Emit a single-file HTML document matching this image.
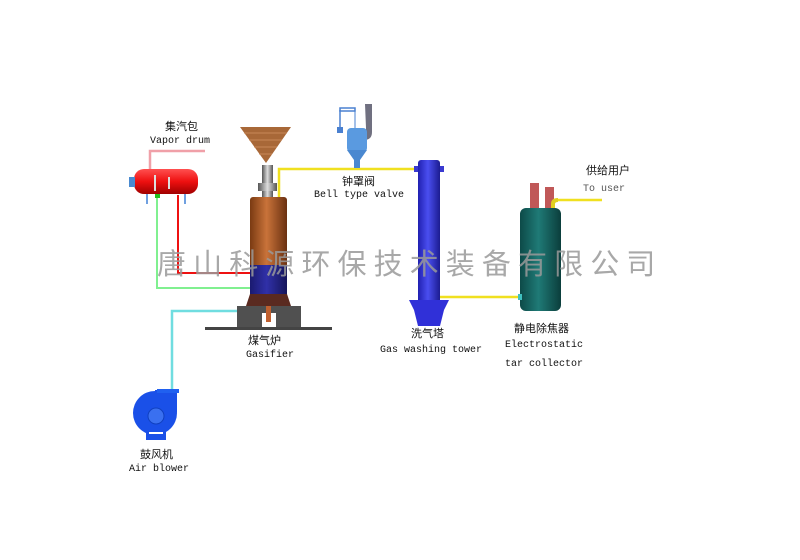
<!DOCTYPE html>
<html><head><meta charset="utf-8"><style>
html,body{margin:0;padding:0;background:#fff;}
svg{display:block;}
text{font-family:"Liberation Mono","Noto Sans CJK SC",monospace;font-size:10px;fill:#111;}
.cn{font-family:"Liberation Sans","Noto Sans CJK SC",sans-serif;font-size:11px;}
</style></head><body>
<svg width="800" height="560" viewBox="0 0 800 560" xmlns="http://www.w3.org/2000/svg">
<defs>
<linearGradient id="cu" x1="0" x2="1"><stop offset="0" stop-color="#7a3a12"/><stop offset="0.45" stop-color="#c9733a"/><stop offset="1" stop-color="#6a3010"/></linearGradient>
<linearGradient id="bl" x1="0" x2="1"><stop offset="0" stop-color="#1a1a70"/><stop offset="0.45" stop-color="#3030a8"/><stop offset="1" stop-color="#15155a"/></linearGradient>
<linearGradient id="wt" x1="0" x2="1"><stop offset="0" stop-color="#2020b0"/><stop offset="0.45" stop-color="#4a4ef0"/><stop offset="1" stop-color="#1c1c90"/></linearGradient>
<linearGradient id="tl" x1="0" x2="1"><stop offset="0" stop-color="#0d4a48"/><stop offset="0.45" stop-color="#1f7a76"/><stop offset="1" stop-color="#0b3e3c"/></linearGradient>
<linearGradient id="rd" x1="0" x2="0" y1="0" y2="1"><stop offset="0" stop-color="#ff5050"/><stop offset="0.5" stop-color="#ee1010"/><stop offset="1" stop-color="#a00000"/></linearGradient>
<linearGradient id="gr" x1="0" x2="1"><stop offset="0" stop-color="#555"/><stop offset="0.5" stop-color="#ddd"/><stop offset="1" stop-color="#555"/></linearGradient>
</defs>
<polyline points="150,170 150,151 205,151" fill="none" stroke="#f0a0a8" stroke-width="2.5"/>
<polyline points="178,195 178,273 250,273" fill="none" stroke="#ee1111" stroke-width="2"/>
<polyline points="157,196 157,288 250,288" fill="none" stroke="#80f090" stroke-width="2"/>
<polyline points="172,392 172,311 266,311" fill="none" stroke="#70dde0" stroke-width="2.5"/>
<polyline points="279,198 279,169 416,169" fill="none" stroke="#f0e020" stroke-width="2.5"/>
<polyline points="440,297 522,297" fill="none" stroke="#f0e020" stroke-width="2.5"/>
<polyline points="557,200 602,200" fill="none" stroke="#f0e020" stroke-width="2.5"/>
<rect x="134" y="169" width="64" height="25" rx="10" fill="url(#rd)"/>
<rect x="129" y="177" width="6" height="10" fill="#4a8ad0"/>
<rect x="154" y="175" width="2" height="16" fill="#ddd"/><rect x="168" y="177" width="2" height="12" fill="#ddd"/>
<rect x="146" y="194" width="2" height="10" fill="#70a0e0"/><rect x="184" y="194" width="2" height="10" fill="#70a0e0"/>
<rect x="155" y="194" width="5" height="4" fill="#20c020"/>
<polygon points="240,127 291,127 266,163" fill="#a86838"/>
<g stroke="#c88858" stroke-width="1"><line x1="244" y1="133" x2="287" y2="133"/><line x1="249" y1="140" x2="282" y2="140"/><line x1="254" y1="147" x2="277" y2="147"/><line x1="259" y1="154" x2="272" y2="154"/></g>
<rect x="262" y="165" width="11" height="32" fill="url(#gr)"/>
<rect x="258" y="183" width="19" height="8" fill="url(#gr)"/>
<rect x="250" y="197" width="37" height="72" rx="3" fill="url(#cu)"/>
<rect x="250" y="265" width="37" height="30" fill="url(#bl)"/>
<polygon points="250,294 287,294 291,306 246,306" fill="#5a2a20"/>
<path d="M237,306 H301 V328 H276 V313 H262 V328 H237 Z" fill="#505050"/>
<rect x="205" y="327" width="127" height="3" fill="#444"/>
<rect x="266" y="306" width="5" height="16" fill="#c06030"/>
<rect x="340" y="108" width="15" height="3" fill="none" stroke="#4a80d0" stroke-width="1.5"/>
<line x1="340" y1="110" x2="340" y2="128" stroke="#4a80d0" stroke-width="1.5"/><line x1="355" y1="110" x2="355" y2="135" stroke="#4a80d0"/>
<rect x="337" y="127" width="6" height="6" fill="#4a80d0"/>
<path d="M365,104 H372 V132 Q372,140 364,140 V134 Q366,134 366,128 Z" fill="#707080"/>
<rect x="347" y="128" width="20" height="24" rx="4" fill="#5a9ae0"/>
<polygon points="347,150 367,150 360,160 354,160" fill="#4a88d0"/>
<rect x="354" y="158" width="6" height="10" fill="#4a88d0"/>
<rect x="418" y="160" width="22" height="166" rx="3" fill="url(#wt)"/>
<rect x="414" y="166" width="4" height="6" fill="#3a3ad0"/><rect x="440" y="166" width="4" height="6" fill="#3a3ad0"/>
<polygon points="409,300 449,300 444,310 440,326 418,326 414,310" fill="#3030d8"/>
<rect x="530" y="183" width="9" height="32" fill="#c05858"/>
<rect x="545" y="187" width="9" height="28" fill="#c05858"/>
<path d="M553,214 V204 Q553,200 558,200" fill="none" stroke="#e0d020" stroke-width="4"/>
<rect x="520" y="208" width="41" height="103" rx="6" fill="url(#tl)"/>
<rect x="518" y="294" width="4" height="6" fill="#40c0c0"/>
<circle cx="155" cy="413" r="22" fill="#1a50e8"/>
<rect x="155" y="390" width="22" height="22" fill="#1a50e8"/>
<rect x="157" y="389" width="22" height="4" fill="#2060f0"/>
<circle cx="156" cy="416" r="8" fill="#3a70f0" stroke="#1040c0"/>
<rect x="146" y="426" width="20" height="14" fill="#1a50e8"/><rect x="149" y="432" width="14" height="2" fill="#fff"/>
<text x="157" y="274" style="font-family:'Liberation Sans','Noto Sans CJK SC',sans-serif;font-size:29px;fill:#9a9a9a;letter-spacing:7.1px;opacity:0.85">唐山科源环保技术装备有限公司</text>
<text class="cn" x="165" y="130">集汽包</text>
<text x="150" y="143">Vapor drum</text>
<text class="cn" x="342" y="185">钟罩阀</text>
<text x="314" y="197">Bell type valve</text>
<text class="cn" x="586" y="174">供给用户</text>
<text x="583" y="191" style="fill:#555">To user</text>
<text class="cn" x="248" y="344">煤气炉</text>
<text x="246" y="357">Gasifier</text>
<text class="cn" x="411" y="337">洗气塔</text>
<text x="380" y="352">Gas washing tower</text>
<text class="cn" x="514" y="332">静电除焦器</text>
<text x="505" y="347">Electrostatic</text>
<text x="505" y="366">tar collector</text>
<text class="cn" x="140" y="458">鼓风机</text>
<text x="129" y="471">Air blower</text>
</svg>
</body></html>
